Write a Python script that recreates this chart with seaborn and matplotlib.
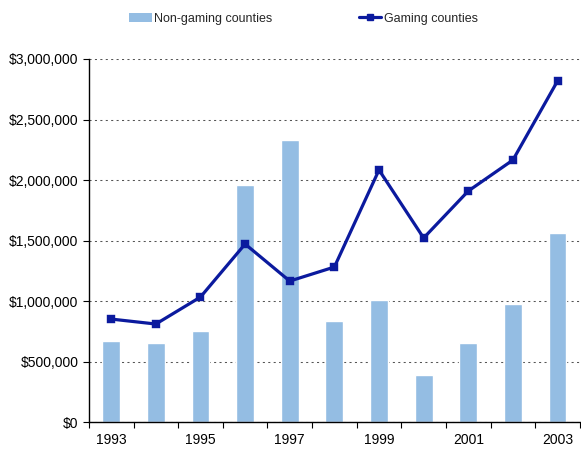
import numpy as np
import pandas as pd
import matplotlib
matplotlib.use("Agg")
import matplotlib.pyplot as plt
import matplotlib.ticker as mticker
from matplotlib.lines import Line2D
from matplotlib.patches import Patch
import seaborn as sns

years = ["1993", "1994", "1995", "1996", "1997", "1998", "1999", "2000", "2001", "2002", "2003"]
non_gaming = [669000, 653000, 752000, 1959000, 2330000, 835000, 1008000, 388000, 653000, 975000, 1562000]
gaming = [851000, 810000, 1033000, 1471000, 1165000, 1281000, 2083000, 1521000, 1909000, 2165000, 2818000]

sns.set_theme(style="white")
plt.rcParams['font.family'] = ['Liberation Sans', 'DejaVu Sans']

bar_color = '#94BDE3'
line_color = '#0B1A9E'

df = pd.DataFrame({'year': years, 'non_gaming': non_gaming, 'gaming': gaming})

fig = plt.figure(figsize=(5.81, 4.49), dpi=100)
ax = fig.add_axes([0.153, 0.06, 0.845, 0.8086])

sns.barplot(data=df, x='year', y='non_gaming', color=bar_color, width=0.4,
            saturation=1, ax=ax, zorder=2)
sns.pointplot(data=df, x='year', y='gaming', color=line_color, marker='s',
              markersize=3.8, linewidth=2.3, ax=ax, zorder=3)

ax.set_xlim(-0.5, 10.5)
ax.set_ylim(0, 3000000)
ax.yaxis.set_major_locator(mticker.MultipleLocator(500000))
ax.yaxis.set_major_formatter(mticker.FuncFormatter(lambda v, p: f"${v:,.0f}"))
ax.grid(axis='y', linestyle=(0, (2, 3.2)), color='#555555', linewidth=0.75, zorder=0)
ax.set_axisbelow(True)

# labels every other year, tick marks at category boundaries
ax.set_xticks(range(0, 11, 2))
ax.set_xticklabels(years[::2])
ax.set_xticks(np.arange(-0.5, 11, 1), minor=True)
ax.tick_params(axis='x', which='major', length=0, pad=8, labelsize=10, colors='black')
ax.tick_params(axis='x', which='minor', length=4, width=0.8, direction='out', color='black', bottom=True)
ax.tick_params(axis='y', which='major', length=4, width=0.8, direction='out', color='black',
               left=True, labelsize=10, labelcolor='black')

ax.set_xlabel('')
ax.set_ylabel('')
sns.despine(ax=ax)
for s in ['left', 'bottom']:
    ax.spines[s].set_color('black')
    ax.spines[s].set_linewidth(1)

handles = [Patch(facecolor=bar_color, edgecolor='none'),
           Line2D([0], [0], color=line_color, linewidth=2.3, marker='s', markersize=3.8)]
fig.legend(handles, ['Non-gaming counties', 'Gaming counties'], loc='center',
           bbox_to_anchor=(0.522, 0.958), ncol=2, frameon=False, fontsize=9,
           columnspacing=6.9, handlelength=1.8, handletextpad=0.2)

fig.savefig('out.png', dpi=100)
